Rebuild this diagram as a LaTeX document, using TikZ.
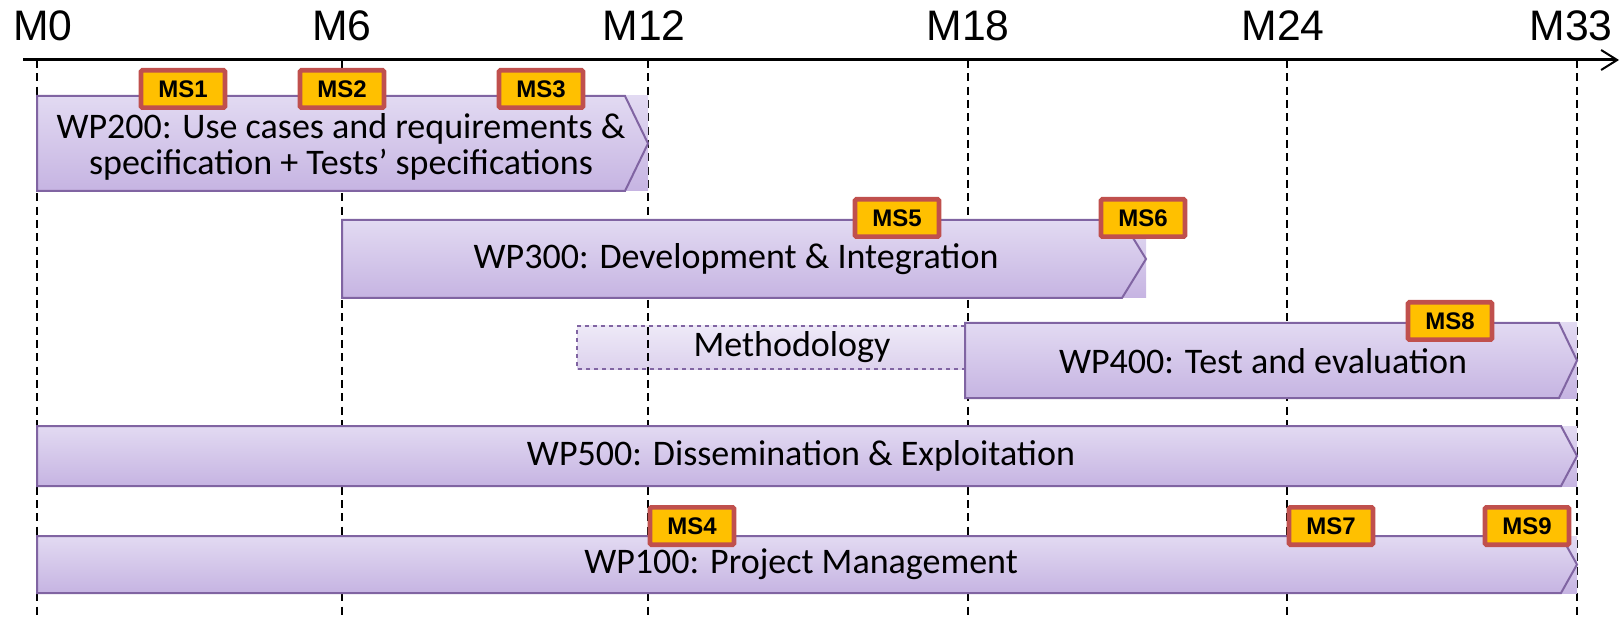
\documentclass[tikz,border=0pt]{standalone}
\usepackage{fontspec}
\setmainfont{Liberation Sans}
\newfontfamily\wpfont{Carlito}
\usetikzlibrary{arrows.meta}

\definecolor{wpline}{HTML}{8064A2}
\definecolor{wptop}{HTML}{E2DAF2}
\definecolor{wpmid}{HTML}{EEE9F8}
\definecolor{wpbot}{HTML}{C6B4E2}
\definecolor{msfill}{HTML}{FFC000}
\definecolor{msline}{HTML}{C0504D}

\begin{document}
\begin{tikzpicture}[x=0.75pt,y=-0.75pt,
  wpfill/.style={top color=wptop,middle color=wpmid,bottom color=wpbot},
  methfill/.style={top color=wptop!60!white,middle color=wpmid!60!white,bottom color=wpbot!60!white},
  wpedge/.style={draw=wpline,line width=1.5pt,line join=miter},
  gridline/.style={line width=1.7pt,dash pattern=on 6pt off 4pt},
  month/.style={anchor=base,font=\fontsize{32}{32}\selectfont},
  wptext/.style={align=center,inner sep=0pt,font=\wpfont\fontsize{27}{27}\selectfont},
  ms/.style={draw=msline,fill=msfill,line width=3.5pt,rounded corners=1pt,minimum width=63pt,minimum height=28pt,inner sep=0pt,font=\bfseries\fontsize{18}{18}\selectfont}]
\useasboundingbox (0,0) rectangle (1621,620);

\fill[methfill] (577,326) rectangle (965,369);
\draw[wpline,dashed,line width=1.5pt] (965,326) -- (577,326) -- (577,369) -- (965,369);
\node[wptext] (meth) at (792,347) {Methodology};

\foreach \x/\m/\dx in {37/0/6,342/6/0,648/12/-4,968/18/0,1287/24/-4,1577/33/-6}{
  \node[month] (m\m) at (\x+\dx,41) {M\m};
  \draw[gridline] (\x,60) -- (\x,620);
}

\coordinate (axstart) at (23,60);
\coordinate (axend) at (1619,60);
\draw[line width=2.25pt,-{Straight Barb[length=12pt,width=15pt,line width=1.5pt]}] (axstart) -- (axend);

\fill[wpfill] (37,96) rectangle (648,191);
\draw[wpedge] (37,96) -- (625,96) -- (648,143.5) -- (625,191) -- (37,191) -- cycle;
\node[wptext] (wp200) at (341,147) {WP200: Use cases and requirements \&\\specification + Tests’ specifications};

\fill[wpfill] (342,220) rectangle (1146,298);
\draw[wpedge] (342,220) -- (1122,220) -- (1146,259) -- (1122,298) -- (342,298) -- cycle;
\node[wptext] (wp300) at (736,259) {WP300: Development \& Integration};

\fill[wpfill] (965,323) rectangle (1577,398);
\draw[wpedge] (965,323) -- (1559,323) -- (1577,360.5) -- (1559,398) -- (965,398) -- cycle;
\node[wptext] (wp400) at (1263,361) {WP400: Test and evaluation};

\fill[wpfill] (37,426) rectangle (1577,486);
\draw[wpedge] (37,426) -- (1561,426) -- (1577,456) -- (1561,486) -- (37,486) -- cycle;
\node[wptext] (wp500) at (801,456) {WP500: Dissemination \& Exploitation};

\fill[wpfill] (37,536) rectangle (1577,593);
\draw[wpedge] (37,536) -- (1561,536) -- (1577,564.5) -- (1561,593) -- (37,593) -- cycle;
\node[wptext] (wp100) at (801,564) {WP100: Project Management};

\node[ms] (ms1) at (183,89) {MS1};
\node[ms] (ms2) at (342,89) {MS2};
\node[ms] (ms3) at (541,89) {MS3};
\node[ms] (ms5) at (897,218) {MS5};
\node[ms] (ms6) at (1143,218) {MS6};
\node[ms] (ms8) at (1450,321) {MS8};
\node[ms] (ms4) at (692,526) {MS4};
\node[ms] (ms7) at (1331,526) {MS7};
\node[ms] (ms9) at (1527,526) {MS9};
\end{tikzpicture}
\end{document}
